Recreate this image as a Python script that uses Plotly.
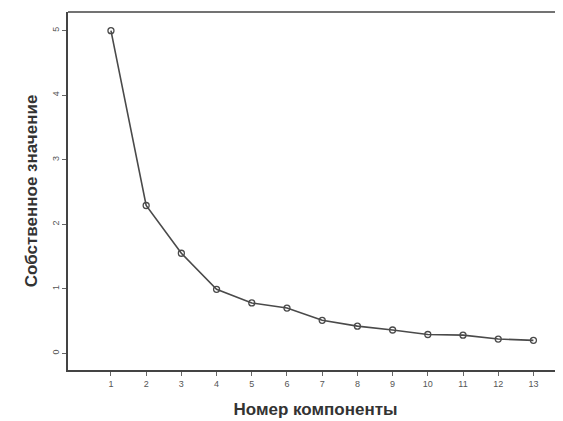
import plotly.graph_objects as go

components = [1, 2, 3, 4, 5, 6, 7, 8, 9, 10, 11, 12, 13]
eigenvalues = [5.0, 2.29, 1.55, 0.99, 0.78, 0.70, 0.51, 0.42, 0.36, 0.29, 0.28, 0.22, 0.20]
y_ticks = [0, 1, 2, 3, 4, 5]

fig = go.Figure()
fig.add_trace(go.Scatter(
    x=components, y=eigenvalues, mode="lines+markers",
    line=dict(color="#4a4a4a", width=1.6),
    marker=dict(symbol="circle-open", size=6, color="#4a4a4a", line=dict(width=1.3)),
    showlegend=False,
    cliponaxis=False,
))

title_font = dict(family="Liberation Sans Narrow, Arial Narrow, Liberation Sans, Arial", size=17, color="#333333")
tick_font = dict(family="Liberation Sans Narrow, Arial Narrow, Liberation Sans", size=9, color="#555555")

fig.update_layout(
    width=555, height=413,
    margin=dict(l=60, r=0, t=4, b=51),
    paper_bgcolor="white", plot_bgcolor="white",
    xaxis=dict(
        range=[-0.22, 13.84], tickvals=components, automargin=False,
        showline=True, linecolor="#444444", linewidth=1.5,
        ticks="outside", ticklen=4, tickcolor="#666666",
        showgrid=False, zeroline=False, tickfont=tick_font,
        title=dict(text="<b>Номер компоненты</b>", font=title_font, standoff=16),
    ),
    yaxis=dict(
        range=[-0.26, 5.29], tickvals=y_ticks, automargin=False, tickangle=-90,
        showline=True, linecolor="#444444", linewidth=1.5,
        ticks="outside", ticklen=4, tickcolor="#666666",
        showgrid=False, zeroline=False, tickfont=tick_font,
        title=dict(text="<b>Собственное значение</b>", font=title_font, standoff=9),
    ),
    shapes=[dict(type="line", xref="paper", yref="paper", x0=0, x1=1.02, y0=1, y1=1,
                 line=dict(color="#444444", width=1.5))],
)

fig.write_html("out.html")
